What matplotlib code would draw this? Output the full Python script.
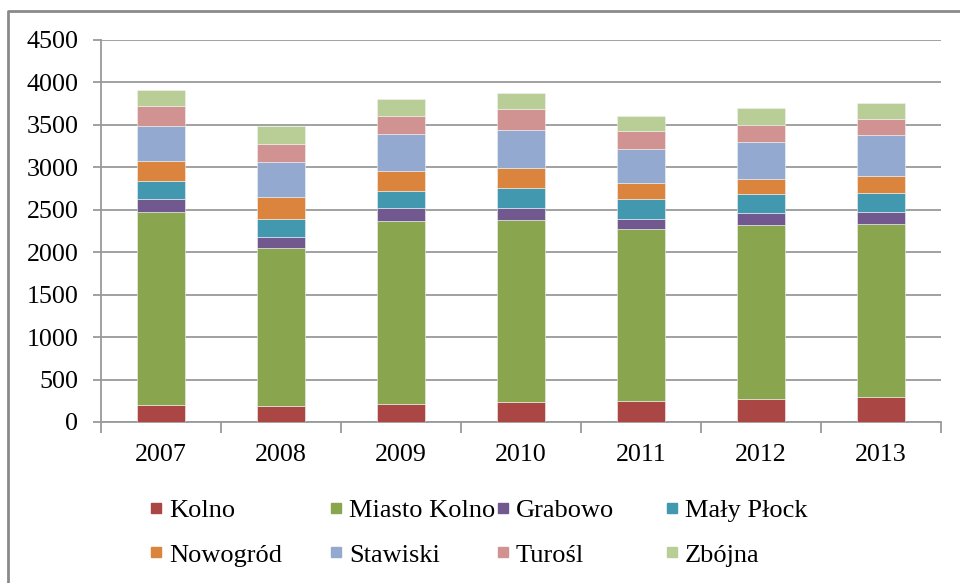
import matplotlib.pyplot as plt
import numpy as np
from matplotlib.lines import Line2D

plt.rcParams['font.family'] = ['Liberation Serif', 'DejaVu Serif']

years = ['2007', '2008', '2009', '2010', '2011', '2012', '2013']
gminy = ['Kolno', 'Miasto Kolno', 'Grabowo', 'Mały Płock',
         'Nowogród', 'Stawiski', 'Turośl', 'Zbójna']
colors = ['#AA4643', '#89A54E', '#71588F', '#4198AF',
          '#DB843D', '#93A9CF', '#D19392', '#B9CD96']

# wartości (na rok)
kolno = [205, 189, 217, 232, 252, 268, 295]
miasto_kolno = [2267, 1858, 2149, 2150, 2024, 2051, 2040]
grabowo = [150, 134, 150, 134, 118, 138, 137]
maly_plock = [213, 213, 201, 244, 228, 228, 229]
nowogrod = [240, 259, 240, 228, 197, 181, 197]
stawiski = [409, 412, 437, 453, 394, 437, 480]
turosl = [244, 212, 212, 244, 212, 197, 197]
zbojna = [181, 205, 197, 193, 181, 197, 185]

series = [kolno, miasto_kolno, grabowo, maly_plock,
          nowogrod, stawiski, turosl, zbojna]

fig = plt.figure(figsize=(9.6, 5.83), dpi=100)
ax = fig.add_axes([100.7 / 960, 1 - 422 / 583, (941 - 100.7) / 960, (422 - 40) / 583])

x = np.arange(len(years))
bottom = np.zeros(len(years))
for name, vals, c in zip(gminy, series, colors):
    ax.bar(x, vals, 0.4, bottom=bottom, color=c, edgecolor='#f2f2f2',
           linewidth=0.4, label=name, zorder=3)
    bottom += np.array(vals)

grid_c = '#9a9a9a'
ax.set_ylim(0, 4500)
ax.set_xlim(-0.5, len(years) - 0.5)
ax.set_yticks(np.arange(0, 4501, 500))
ax.yaxis.grid(True, color=grid_c, linewidth=1.3, zorder=0)
ax.set_axisbelow(True)

ax.set_xticks(x)
ax.set_xticklabels(years)
ax.set_xticks(np.arange(-0.5, len(years)), minor=True)
ax.tick_params(axis='x', which='major', length=0, pad=16, labelsize=18.7)
ax.tick_params(axis='x', which='minor', length=8, width=1.3, color=grid_c, direction='out')
ax.tick_params(axis='y', length=6, width=1.3, color=grid_c, pad=10, labelsize=18.7)

for s in ['top', 'right']:
    ax.spines[s].set_visible(False)
for s in ['left', 'bottom']:
    ax.spines[s].set_color(grid_c)
    ax.spines[s].set_linewidth(1.3)

# legenda: 4 kolumny po 2 wpisy
col_x = [149, 329, 496, 665]
for c in range(4):
    idx = [c, c + 4]
    handles = [Line2D([], [], marker='s', linestyle='none', markersize=7.5,
                      markerfacecolor=colors[i], markeredgecolor=colors[i]) for i in idx]
    fig.legend(handles, [gminy[i] for i in idx], loc='center left',
               bbox_to_anchor=(col_x[c] / 960, 1 - 532.5 / 583), frameon=False,
               fontsize=19, borderpad=0, borderaxespad=0, handlelength=0.5,
               handletextpad=0.25, labelspacing=0.8)

# ramka wykresu
fig.add_artist(Line2D([8 / 960, 8 / 960, 1], [0, 1 - 11 / 583, 1 - 11 / 583],
                      transform=fig.transFigure, color='#8a8a8a', linewidth=2))

fig.savefig('out.png', dpi=100, facecolor='white')
